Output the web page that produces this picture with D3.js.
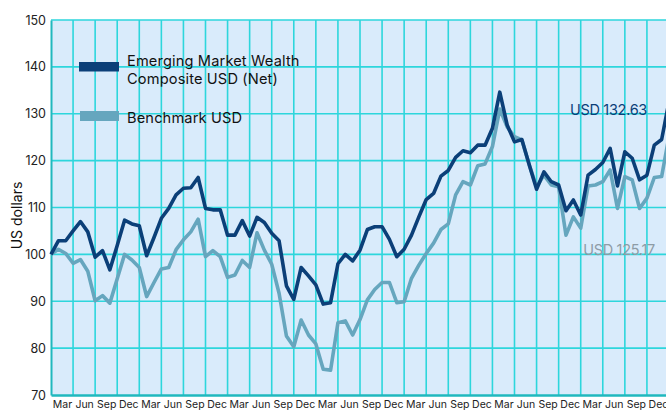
<!DOCTYPE html>
<html>
<head>
<meta charset="utf-8">
<script src="https://cdn.jsdelivr.net/npm/d3@7"></script>
<style>
  body { margin: 0; background: #fff; }
  svg text { font-family: Inter, Lato, sans-serif; }
</style>
</head>
<body>
<div id="chart"></div>
<script>
// monthly index values, start = 100
const composite = [
  100, 102.9, 102.9, 105, 107.0, 104.8, 99.4, 100.8, 96.7, 101.9,
  107.3, 106.5, 106.1, 99.7, 103.6, 107.7, 109.8, 112.7, 114.1, 114.2,
  116.4, 109.8, 109.5, 109.5, 104.1, 104.1, 107.2, 103.9, 107.9, 106.8,
  104.5, 102.9, 93.3, 90.4, 97.2, 95.4, 93.5, 89.4, 89.7, 98.0,
  100.0, 98.6, 100.9, 105.3, 105.9, 105.9, 103.2, 99.5, 101.1, 104.1,
  108.0, 111.7, 113.0, 116.7, 117.9, 120.7, 122.1, 121.7, 123.3, 123.3,
  126.9, 134.6, 127.6, 124.0, 124.5, 119.1, 113.9, 117.6, 115.5, 114.8,
  109.3, 111.6, 108.4, 116.9, 118.1, 119.6, 122.6, 114.6, 121.9, 120.5,
  115.9, 116.9, 123.3, 124.5, 132.63
]

const benchmark = [
  100, 101.1, 100.2, 98.1, 98.9, 96.4, 90.1, 91.2, 89.6, 94.8,
  100.0, 98.8, 97.2, 91.0, 94.0, 96.9, 97.2, 101.0, 103.1, 104.8,
  107.5, 99.5, 100.8, 99.5, 95.1, 95.6, 98.7, 97.2, 104.6, 100.9,
  97.9, 91.7, 82.6, 80.3, 86.0, 82.8, 80.9, 75.5, 75.3, 85.4,
  85.8, 82.8, 86.1, 90.3, 92.5, 94.0, 94.0, 89.7, 89.9, 94.9,
  97.7, 100.2, 102.4, 105.3, 106.5, 112.7, 115.5, 114.8, 118.9, 119.3,
  123.0, 131.0, 127.2, 125.1, 124.4, 119.1, 114.4, 116.9, 114.8, 114.4,
  104.1, 108.0, 105.6, 114.6, 114.8, 115.5, 118.0, 109.8, 116.6, 115.9,
  109.8, 112.0, 116.4, 116.6, 125.17
]

const quarterLabels = ['Mar', 'Jun', 'Sep', 'Dec']
const years = 7
const yTicks = [70, 80, 90, 100, 110, 120, 130, 140, 150]

const width = 666
const height = 414
const margin = { top: 20, right: -3, bottom: 19, left: 51 }

const nMonths = composite.length - 1
const quarters = d3.range(years * 4)

const x = d3.scaleLinear()
  .domain([0, nMonths])
  .range([margin.left, width - margin.right])

const y = d3.scaleLinear()
  .domain([70, 150])
  .range([height - margin.bottom, margin.top])

const svg = d3.select('#chart').append('svg')
  .attr('width', width)
  .attr('height', height)

// plot background
svg.append('rect')
  .attr('x', x(0))
  .attr('y', y(150))
  .attr('width', x(nMonths) - x(0))
  .attr('height', y(70) - y(150))
  .attr('fill', '#d9ebfb')

// vertical grid: one line per quarter
svg.append('g')
  .selectAll('line')
  .data(d3.range(1, years * 4 + 1))
  .join('line')
  .attr('x1', d => x(d * 3))
  .attr('x2', d => x(d * 3))
  .attr('y1', y(150))
  .attr('y2', y(70))
  .attr('stroke', '#2dd6dc')
  .attr('stroke-width', 1.6)

// horizontal grid
svg.append('g')
  .selectAll('line')
  .data(yTicks.filter(d => d > 70))
  .join('line')
  .attr('x1', x(0))
  .attr('x2', width)
  .attr('y1', d => y(d))
  .attr('y2', d => y(d))
  .attr('stroke', '#2dd6dc')
  .attr('stroke-width', 1.6)

// axes frame
const yAxis = g => g
  .attr('transform', `translate(${margin.left},0)`)
  .call(d3.axisLeft(y).tickValues(yTicks).tickSize(0).tickPadding(5))
  .call(g => g.select('.domain').attr('stroke', '#20b8be').attr('stroke-width', 2))
  .call(g => g.selectAll('text')
    .attr('fill', '#222')
    .attr('font-size', 12.5))

const xAxis = g => g
  .attr('transform', `translate(0,${y(70)})`)
  .call(d3.axisBottom(x)
    .tickValues(quarters.map(q => q * 3 + 1.5))
    .tickFormat((d, i) => quarterLabels[i % 4])
    .tickSize(0)
    .tickPadding(6))
  .call(g => g.select('.domain').attr('stroke', '#20b8be').attr('stroke-width', 2.5))
  .call(g => g.selectAll('text')
    .attr('fill', '#222')
    .attr('font-size', 10.5))

svg.append('g').call(xAxis)
svg.append('g').call(yAxis)

svg.append('text')
  .attr('transform', `translate(22,${(y(150) + y(70)) / 2 + 8}) rotate(-90)`)
  .attr('text-anchor', 'middle')
  .attr('font-size', 14)
  .attr('fill', '#111')
  .text('US dollars')

const line = d3.line()
  .x((d, i) => x(i))
  .y(d => y(d))
  .curve(d3.curveLinear)

svg.append('path')
  .datum(benchmark)
  .attr('fill', 'none')
  .attr('stroke', '#66a6be')
  .attr('stroke-width', 3.6)
  .attr('stroke-linejoin', 'round')
  .attr('d', line)

svg.append('path')
  .datum(composite)
  .attr('fill', 'none')
  .attr('stroke', '#0b3f78')
  .attr('stroke-width', 3.6)
  .attr('stroke-linejoin', 'round')
  .attr('d', line)

// end value labels
svg.append('text')
  .attr('x', 647)
  .attr('y', 115)
  .attr('text-anchor', 'end')
  .attr('font-size', 14.5)
  .attr('fill', '#0b3f78')
  .attr('letter-spacing', -0.3)
  .text(`USD ${composite[nMonths]}`)

svg.append('text')
  .attr('x', 655)
  .attr('y', 255)
  .attr('text-anchor', 'end')
  .attr('font-size', 14.5)
  .attr('fill', '#8e9ca6')
  .attr('letter-spacing', -0.3)
  .text(`USD ${benchmark[nMonths]}`)

// legend
const legend = svg.append('g')

legend.append('rect')
  .attr('x', 79).attr('y', 62).attr('width', 40).attr('height', 9.5)
  .attr('fill', '#0b3f78')
legend.append('text')
  .attr('x', 127).attr('y', 65.5)
  .attr('font-size', 14.6)
  .attr('letter-spacing', 0.15)
  .attr('fill', '#111')
  .text('Emerging Market Wealth')
legend.append('text')
  .attr('x', 127).attr('y', 84)
  .attr('font-size', 14.6)
  .attr('letter-spacing', 0.15)
  .attr('fill', '#111')
  .text('Composite USD (Net)')

legend.append('rect')
  .attr('x', 80).attr('y', 111).attr('width', 39).attr('height', 10)
  .attr('fill', '#66a6be')
legend.append('text')
  .attr('x', 127).attr('y', 123)
  .attr('font-size', 14.6)
  .attr('letter-spacing', 0.15)
  .attr('fill', '#111')
  .text('Benchmark USD')
</script>
</body>
</html>
